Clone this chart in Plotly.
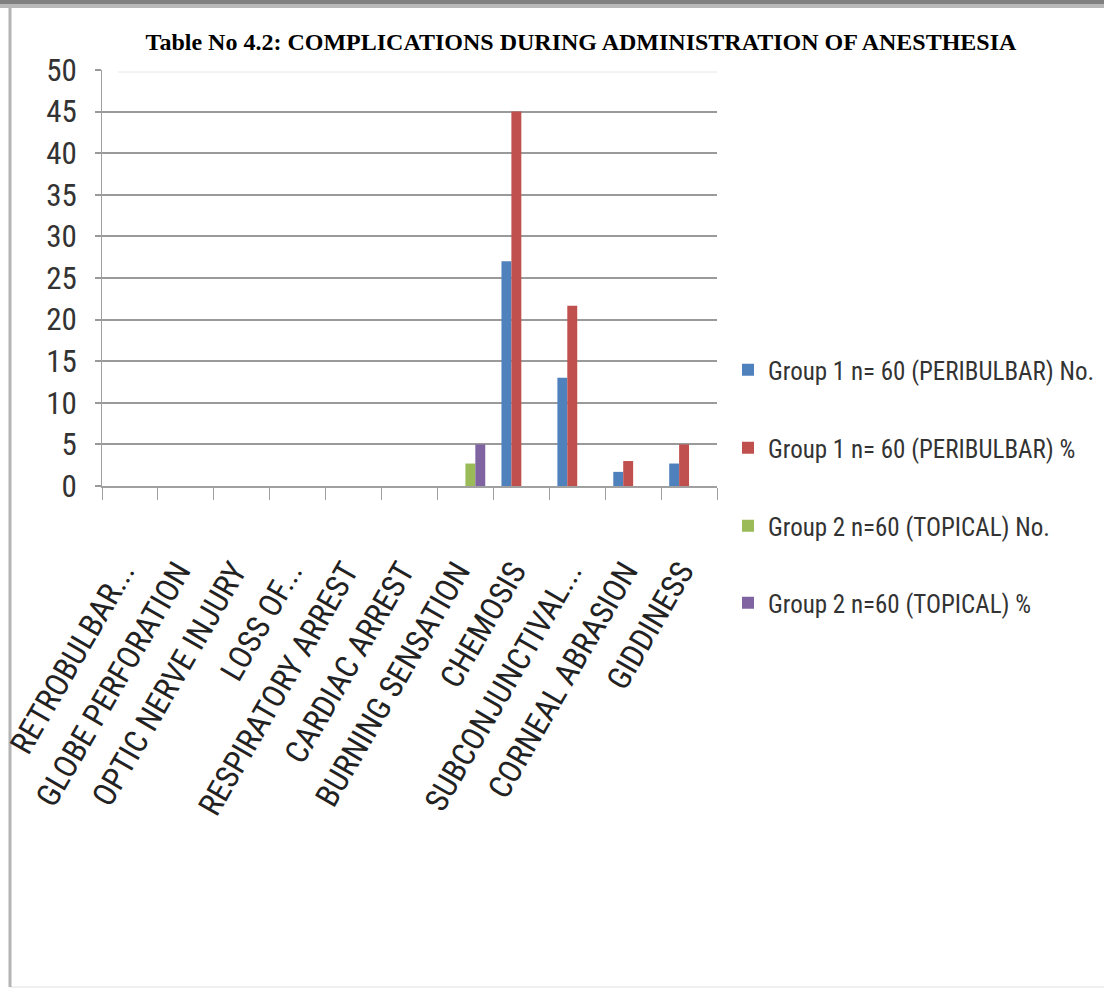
import plotly.graph_objects as go

# Complications recorded during administration of anaesthesia
categories = [
    "RETROBULBAR...", "GLOBE PERFORATION", "OPTIC NERVE INJURY", "LOSS OF...",
    "RESPIRATORY ARREST", "CARDIAC ARREST", "BURNING SENSATION", "CHEMOSIS",
    "SUBCONJUNCTIVAL...", "CORNEAL ABRASION", "GIDDINESS",
]
series_names = [
    "Group 1 n= 60 (PERIBULBAR) No.",
    "Group 1 n= 60 (PERIBULBAR) %",
    "Group 2 n=60 (TOPICAL) No.",
    "Group 2 n=60 (TOPICAL) %",
]
g1_no = [0, 0, 0, 0, 0, 0, 0, 27, 13, 1.7, 2.7]
g1_pct = [0, 0, 0, 0, 0, 0, 0, 45, 21.67, 3, 5]
g2_no = [0, 0, 0, 0, 0, 0, 2.7, 0, 0, 0, 0]
g2_pct = [0, 0, 0, 0, 0, 0, 5, 0, 0, 0, 0]
y_ticks = list(range(0, 51, 5))

colors = ["#4F81BD", "#C0504D", "#9BBB59", "#8064A2"]
values = [g1_no, g1_pct, g2_no, g2_pct]

W, H = 1104, 994
L, R, T, B = 102, 717, 70, 486  # plot area in pixels


def px(x):
    return (x - L) / (R - L)


def py(y):
    return (B - y) / (B - T)


narrow = "Roboto Condensed, Carlito, sans-serif"

fig = go.Figure()
legend_ids = ["legend", "legend2", "legend3", "legend4"]
for name, vals, col, lg in zip(series_names, values, colors, legend_ids):
    fig.add_trace(go.Bar(
        x=categories, y=vals, name=name, marker_color=col,
        marker_line_width=0, legend=lg,
    ))

legend_y = [370, 448, 526, 603]
legend_layout = {}
for lg, ly in zip(legend_ids, legend_y):
    legend_layout[lg] = dict(
        x=px(728), y=py(ly), xanchor="left", yanchor="middle",
        font=dict(family=narrow, size=25, color="#333333"),
        bgcolor="rgba(0,0,0,0)", itemwidth=30,
    )

shapes = [
    # outer frame of the figure
    dict(type="line", xref="paper", yref="paper",
         x0=px(10), x1=px(1104), y0=py(987), y1=py(987),
         line=dict(color="#e0e0e0", width=1), layer="below"),
    dict(type="line", xref="paper", yref="paper",
         x0=px(10), x1=px(10), y0=py(987), y1=py(6),
         line=dict(color="#b4b4b4", width=3), layer="below"),
    dict(type="rect", xref="paper", yref="paper",
         x0=px(0), x1=px(1104), y0=py(4), y1=py(0),
         fillcolor="#808080", line=dict(width=0), layer="below"),
    dict(type="rect", xref="paper", yref="paper",
         x0=px(0), x1=px(1104), y0=py(8), y1=py(4),
         fillcolor="#b8b8b8", line=dict(width=0), layer="below"),
    # white title box sitting over the top grid line
    dict(type="rect", xref="paper", yref="paper",
         x0=px(118), x1=px(1095), y0=py(72), y1=py(14),
         fillcolor="white", line=dict(width=0), layer="above"),
    dict(type="line", xref="paper", yref="paper",
         x0=px(118), x1=px(717), y0=py(72), y1=py(72),
         line=dict(color="#e6e6e6", width=1), layer="above"),
]

fig.update_layout(
    width=W, height=H,
    margin=dict(l=L, r=W - R, t=T, b=H - B, pad=0, autoexpand=False),
    paper_bgcolor="white", plot_bgcolor="white",
    barmode="group", bargap=0.29, bargroupgap=0,
    showlegend=True,
    title=dict(
        text="<b>Table No 4.2: COMPLICATIONS DURING ADMINISTRATION OF ANESTHESIA</b>",
        x=581 / W, y=1 - 42 / H, xref="container", yref="container",
        xanchor="center", yanchor="middle",
        font=dict(family="Liberation Serif, Times New Roman, serif", size=24, color="#000000"),
    ),
    xaxis=dict(
        type="category", tickangle=-60, tickson="boundaries",
        ticks="outside", ticklen=12, tickcolor="#a0a0a0", tickwidth=1,
        showline=True, linecolor="#a0a0a0", linewidth=2,
        showgrid=False, zeroline=False, automargin=False,
        ticklabelstandoff=52, ticklabelshift=-8,
        tickfont=dict(family=narrow, size=32, color="#222222"),
        range=[-0.5, len(categories) - 0.5],
    ),
    yaxis=dict(
        range=[0, 50], tickvals=y_ticks, ticktext=[str(v) for v in y_ticks],
        ticks="outside", ticklen=6, tickcolor="#999999", tickwidth=2,
        showline=True, linecolor="#a0a0a0", linewidth=1,
        showgrid=True, gridcolor="#9a9a9a", gridwidth=2,
        zeroline=False, ticklabelstandoff=12, automargin=False,
        tickfont=dict(family=narrow, size=31, color="#333333"),
    ),
    shapes=shapes,
    **legend_layout,
)

fig.write_html("out.html")
